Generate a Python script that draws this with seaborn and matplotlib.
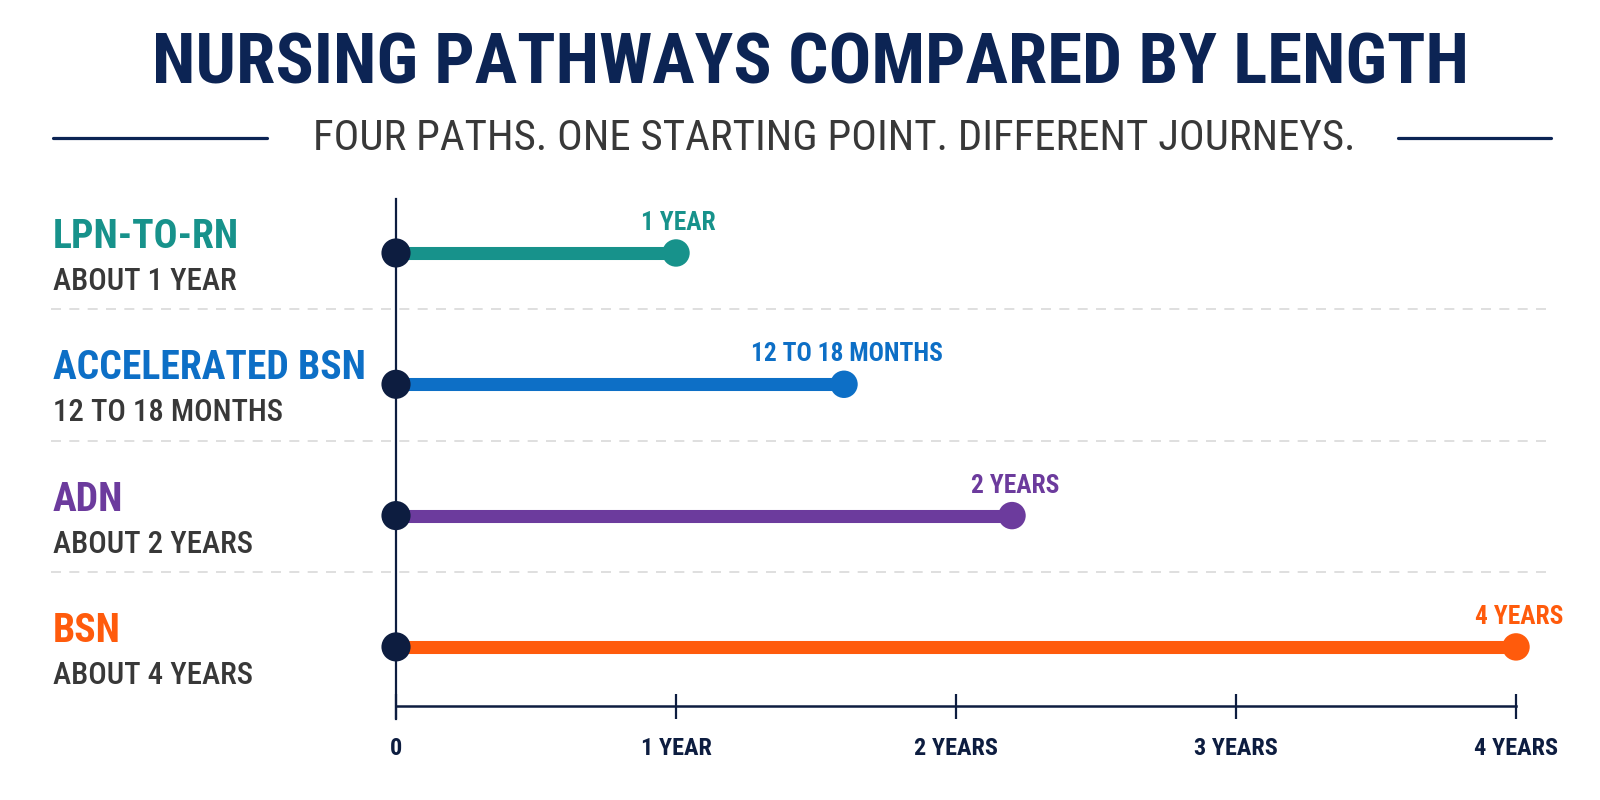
import os
import glob
import matplotlib
matplotlib.use("Agg")
import numpy as np
import pandas as pd
import seaborn as sns
import matplotlib.pyplot as plt
import matplotlib.font_manager as fm
from matplotlib.lines import Line2D
from matplotlib.transforms import blended_transform_factory

# ---------------- data ----------------
pathways = ["LPN-TO-RN", "ACCELERATED BSN", "ADN", "BSN"]
durations = ["ABOUT 1 YEAR", "12 TO 18 MONTHS", "ABOUT 2 YEARS", "ABOUT 4 YEARS"]
end_labels = ["1 YEAR", "12 TO 18 MONTHS", "2 YEARS", "4 YEARS"]
years = [1.0, 1.6, 2.2, 4.0]
path_colors = ["#17928b", "#0d6fc6", "#6c3b9d", "#ff5b0c"]
tick_values = [0, 1, 2, 3, 4]
tick_labels = ["0", "1 YEAR", "2 YEARS", "3 YEARS", "4 YEARS"]
title = "NURSING PATHWAYS COMPARED BY LENGTH"
subtitle = "FOUR PATHS. ONE STARTING POINT. DIFFERENT JOURNEYS."

NAVY = "#0c2454"
DARK = "#0d1d40"
GRAY = "#383838"
SEP = "#d9d9d9"

# ---------------- fonts ----------------
_files = [f.fname for f in fm.fontManager.ttflist]
_files += glob.glob("/usr/share/fonts/**/*.ttf", recursive=True)

def find_file(patterns):
    for p in patterns:
        for f in _files:
            if os.path.basename(f).lower() == p.lower():
                return f
    return None

files = {
    "heavy": find_file(["RobotoCondensed-ExtraBold.ttf", "RobotoCondensed-Bold.ttf",
                        "LiberationSansNarrow-Bold.ttf", "DejaVuSansCondensed-Bold.ttf"]),
    "bold": find_file(["RobotoCondensed-Bold.ttf", "LiberationSansNarrow-Bold.ttf",
                       "DejaVuSansCondensed-Bold.ttf"]),
    "medium": find_file(["RobotoCondensed-Medium.ttf", "RobotoCondensed-Regular.ttf",
                         "LiberationSansNarrow-Regular.ttf", "DejaVuSansCondensed.ttf"]),
    "regular": find_file(["RobotoCondensed-Regular.ttf", "LiberationSansNarrow-Regular.ttf",
                          "DejaVuSansCondensed.ttf"]),
}

def fp(kind):
    f = files.get(kind)
    if f:
        return fm.FontProperties(fname=f)
    return fm.FontProperties(family="DejaVu Sans",
                             weight="bold" if kind in ("heavy", "bold") else "normal")

sns.set_theme(style="white")
plt.rcParams["font.family"] = ["DejaVu Sans"]

fig = plt.figure(figsize=(16, 8), dpi=100, facecolor="white")
W, H = 1600, 800
ax = fig.add_axes([396 / W, 1 - 719 / H, 1120 / W, 520 / H])
ax.set_facecolor("none")
renderer = fig.canvas.get_renderer()

def fit(t, width_px):
    w = t.get_window_extent(renderer).width
    t.set_fontsize(t.get_fontsize() * width_px / w)
    return t.get_fontsize()

df = pd.DataFrame({"pathway": pathways, "years": years, "row": np.arange(len(pathways))})

# bars
ax.hlines(df["row"], 0, df["years"], colors=path_colors, lw=9.4, zorder=2)
# end points
sns.scatterplot(data=df, x="years", y="row", hue="pathway", palette=path_colors,
                s=390, edgecolor="none", legend=False, zorder=3, clip_on=False, ax=ax)
# start points
sns.scatterplot(x=np.zeros(len(df)), y=df["row"], color=DARK, s=440,
                edgecolor="none", legend=False, zorder=4, clip_on=False, ax=ax)

ax.set_xlim(0, 4)
ax.set_ylim(3.549, -0.411)
ax.set_xlabel("")
ax.set_ylabel("")
ax.set_yticks([])
for s in ["top", "right"]:
    ax.spines[s].set_visible(False)
ax.spines["left"].set_color(DARK)
ax.spines["left"].set_linewidth(1.6)
ax.spines["left"].set_zorder(1)
ax.spines["bottom"].set_position(("data", 3.45))
ax.spines["bottom"].set_color(DARK)
ax.spines["bottom"].set_linewidth(1.8)
ax.set_xticks(tick_values, tick_labels)
ax.tick_params(axis="x", which="major", bottom=True, direction="inout", length=18,
               width=1.6, color=DARK, labelcolor=DARK, pad=13)
ax.grid(False)

tick_texts = ax.get_xticklabels()
for t in tick_texts:
    t.set_fontproperties(fp("bold"))
    t.set_fontsize(20)
tfs = fit(tick_texts[-1], 84)
for t in tick_texts:
    t.set_fontsize(tfs)

# value labels
val_texts = []
for x, r, lab, c in zip(df["years"], df["row"], end_labels, path_colors):
    val_texts.append(ax.annotate(lab, (x, r), xytext=(2, 21.5), textcoords="offset points",
                                 ha="center", va="center", color=c,
                                 fontproperties=fp("bold"), fontsize=18,
                                 annotation_clip=False))
vfs = fit(val_texts[1], 192)
for t in val_texts:
    t.set_fontsize(vfs)

# left labels
name_texts, dur_texts = [], []
for r, name, dur, c in zip(df["row"], pathways, durations, path_colors):
    name_texts.append(ax.annotate(name, (53 / W, r), xycoords=("figure fraction", "data"),
                                  xytext=(0, 11.5), textcoords="offset points",
                                  ha="left", va="center", color=c,
                                  fontproperties=fp("heavy"), fontsize=40,
                                  annotation_clip=False))
    dur_texts.append(ax.annotate(dur, (53 / W, r), xycoords=("figure fraction", "data"),
                                 xytext=(0, -20.5), textcoords="offset points",
                                 ha="left", va="center", color=GRAY,
                                 fontproperties=fp("medium"), fontsize=22,
                                 annotation_clip=False))
nfs = fit(name_texts[1], 312)
for t in name_texts:
    t.set_fontsize(nfs)
dfs = fit(dur_texts[1], 230)
for t in dur_texts:
    t.set_fontsize(dfs)

# dashed separators between rows
btr = blended_transform_factory(fig.transFigure, ax.transData)
for yy in df["row"][:-1] + 0.43:
    ax.add_line(Line2D([51 / W, 1552 / W], [yy, yy], transform=btr, color=SEP,
                       lw=1.2, linestyle=(0, (6, 5)), zorder=0.5, clip_on=False))

# title & subtitle
tt = fig.text(811 / W, 1 - 64 / H, title, ha="center", va="center", color=NAVY,
              fontproperties=fp("heavy"), fontsize=50)
fit(tt, 1320)
st = fig.text(834 / W, 1 - 138 / H, subtitle, ha="center", va="center", color=GRAY,
              fontproperties=fp("regular"), fontsize=26)
fit(st, 1041)
for x0, x1 in [(53, 267), (1398, 1551)]:
    fig.add_artist(Line2D([x0 / W, x1 / W], [1 - 138 / H] * 2, color=NAVY, lw=2.3))

fig.savefig("out.png", dpi=100, facecolor="white")
